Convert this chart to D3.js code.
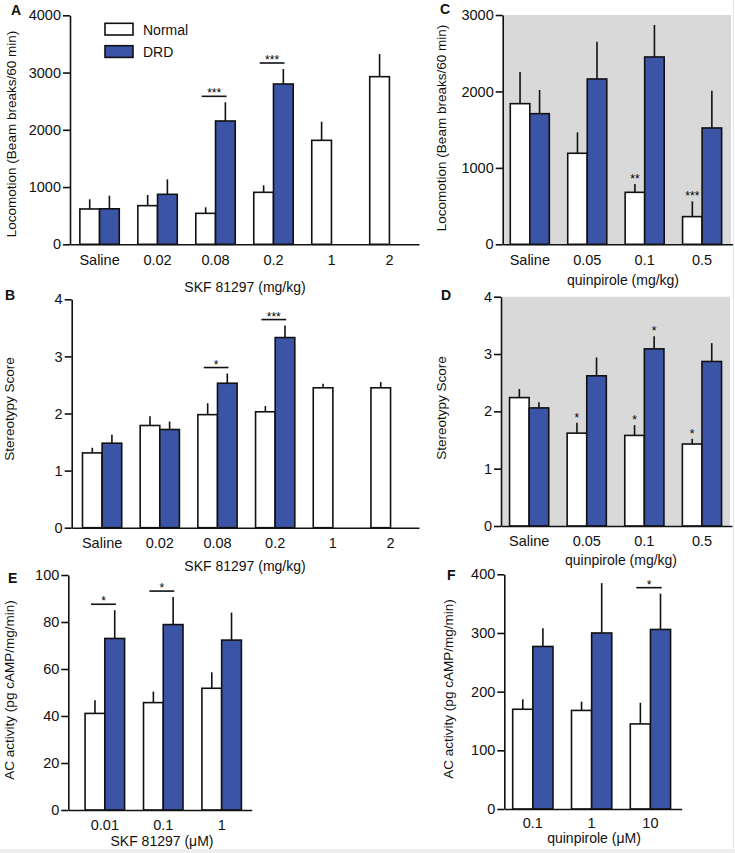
<!DOCTYPE html>
<html>
<head>
<meta charset="utf-8">
<script src="https://cdn.jsdelivr.net/npm/d3@7/dist/d3.min.js"></script>
<style>
  body { margin: 0; background: #fff; }
  svg { font-family: "Liberation Sans", Arial, sans-serif; }
</style>
</head>
<body>
<script>
// groups of the bar charts
var skfDoses = ["Saline", "0.02", "0.08", "0.2", "1", "2"];
var quinDoses = ["Saline", "0.05", "0.1", "0.5"];
var skfConc = ["0.01", "0.1", "1"];
var quinConc = ["0.1", "1", "10"];

// A: locomotion after SKF 81297 (mean and sem)
var locoSkfNormal = [617, 675, 541, 908, 1816, 2928];
var locoSkfNormalSem = [169, 186, 105, 122, 325, 396];
var locoSkfDrd = [620, 873, 2154, 2800, null, null];
var locoSkfDrdSem = [229, 262, 326, 262, null, null];

// B: stereotypy after SKF 81297
var stereoSkfNormal = [1.31, 1.79, 1.98, 2.03, 2.45, 2.45];
var stereoSkfNormalSem = [0.09, 0.16, 0.20, 0.10, 0.07, 0.10];
var stereoSkfDrd = [1.48, 1.72, 2.53, 3.33, null, null];
var stereoSkfDrdSem = [0.15, 0.14, 0.17, 0.21, null, null];

// C: locomotion after quinpirole
var locoQuinNormal = [1840, 1191, 680, 362];
var locoQuinNormalSem = [414, 274, 109, 200];
var locoQuinDrd = [1709, 2163, 2451, 1522];
var locoQuinDrdSem = [310, 488, 419, 488];

// D: stereotypy after quinpirole
var stereoQuinNormal = [2.24, 1.62, 1.58, 1.43];
var stereoQuinNormalSem = [0.15, 0.18, 0.18, 0.09];
var stereoQuinDrd = [2.06, 2.62, 3.09, 2.87];
var stereoQuinDrdSem = [0.10, 0.32, 0.22, 0.32];

// E: AC activity with SKF 81297
var acSkfNormal = [41.1, 45.7, 51.8];
var acSkfNormalSem = [5.6, 4.7, 6.8];
var acSkfDrd = [73.0, 78.9, 72.3];
var acSkfDrdSem = [12.0, 11.7, 11.7];

// F: AC activity with quinpirole
var acQuinNormal = [170, 168, 145];
var acQuinNormalSem = [17, 15, 36];
var acQuinDrd = [277, 300, 306];
var acQuinDrdSem = [31, 85, 61];

// tick values
var ticksLocoSkf = [0, 1000, 2000, 3000, 4000];
var ticksLocoQuin = [0, 1000, 2000, 3000];
var ticksStereo = [0, 1, 2, 3, 4];
var ticksAcSkf = [0, 20, 40, 60, 80, 100];
var ticksAcQuin = [0, 100, 200, 300, 400];

// significance marks: bracket over a group, or stars over one bar
var sigLocoSkf = [{i: 2, t: "***"}, {i: 3, t: "***"}];
var sigStereoSkf = [{i: 2, t: "*"}, {i: 3, t: "***"}];
var starsLocoQuin = [{i: 2, s: "Normal", t: "**"}, {i: 3, s: "Normal", t: "***"}];
var starsStereoQuin = [{i: 1, s: "Normal", t: "*"}, {i: 2, s: "Normal", t: "*"},
                       {i: 3, s: "Normal", t: "*"}, {i: 2, s: "DRD", t: "*"}];
var sigAcSkf = [{i: 0, t: "*"}, {i: 1, t: "*"}];
var sigAcQuin = [{i: 2, t: "*"}];

var blue = "#3b54a5";
var grey = "#d9d9d9";

var svg = d3.select("body").append("svg")
            .attr("width", 735)
            .attr("height", 853);

function drawPanel(p) {
  var g = svg.append("g");

  var x = d3.scaleBand()
            .domain(p.groups)
            .range([p.x0, p.x1])
            .paddingInner(p.pin)
            .paddingOuter(p.pout)
            .align(p.align);
  var sub = d3.scaleBand()
              .domain(["Normal", "DRD"])
              .range([0, x.bandwidth()]);
  var y = d3.scaleLinear()
            .domain([0, p.max])
            .range([p.y0, p.yTop]);

  // grey background for the quinpirole panels
  if (p.shade) {
    g.append("rect")
     .attr("x", p.x0)
     .attr("y", p.yTop)
     .attr("width", p.x1 - p.x0 - 2)
     .attr("height", p.y0 - p.yTop)
     .attr("fill", grey);
  }

  var rows = [];
  p.groups.forEach(function(d, i) {
    rows.push({g: d, s: "Normal", v: p.normal[i], e: p.normalSem[i]});
    if (p.drd[i] != null) {
      rows.push({g: d, s: "DRD", v: p.drd[i], e: p.drdSem[i]});
    }
  });

  // error bars, only the upper half
  g.selectAll(".err")
   .data(rows)
   .enter().append("line")
   .attr("x1", function(d) { return x(d.g) + sub(d.s) + sub.bandwidth() / 2; })
   .attr("x2", function(d) { return x(d.g) + sub(d.s) + sub.bandwidth() / 2; })
   .attr("y1", function(d) { return y(d.v); })
   .attr("y2", function(d) { return y(d.v + d.e); })
   .attr("stroke", "#111")
   .attr("stroke-width", 1.6);

  g.selectAll(".bar")
   .data(rows)
   .enter().append("rect")
   .attr("x", function(d) { return x(d.g) + sub(d.s); })
   .attr("y", function(d) { return y(d.v); })
   .attr("width", sub.bandwidth())
   .attr("height", function(d) { return p.y0 - y(d.v); })
   .attr("fill", function(d) { return d.s == "DRD" ? blue : "#fff"; })
   .attr("stroke", "#111")
   .attr("stroke-width", 1.6);

  // brackets with stars between Normal and DRD
  (p.sig || []).forEach(function(d) {
    var top = y(p.drd[d.i] + p.drdSem[d.i]) - 6;
    var bx = x(p.groups[d.i]);
    var bw = x.bandwidth();
    g.append("line")
     .attr("x1", bx + bw * 0.15)
     .attr("x2", bx + bw * 0.78)
     .attr("y1", top)
     .attr("y2", top)
     .attr("stroke", "#111")
     .attr("stroke-width", 1.6);
    g.append("text")
     .attr("x", bx + bw * 0.465)
     .attr("y", top + 1)
     .attr("text-anchor", "middle")
     .attr("font-size", 12)
     .text(d.t);
  });

  // stars straight over a bar
  (p.stars || []).forEach(function(d) {
    var v = d.s == "DRD" ? p.drd[d.i] + p.drdSem[d.i] : p.normal[d.i] + p.normalSem[d.i];
    g.append("text")
     .attr("x", x(p.groups[d.i]) + sub(d.s) + sub.bandwidth() / 2)
     .attr("y", y(v) - 1)
     .attr("text-anchor", "middle")
     .attr("font-size", 12)
     .text(d.t);
  });

  // axes
  var yAxis = g.append("g")
               .attr("transform", "translate(" + p.x0 + ",0)")
               .call(d3.axisLeft(y).tickValues(p.ticks).tickFormat(function(d) { return d; })
                       .tickSize(7).tickPadding(2).tickSizeOuter(0));
  var xAxis = g.append("g")
               .attr("transform", "translate(0," + p.y0 + ")")
               .call(d3.axisBottom(x).tickSize(0).tickPadding(p.xpad).tickSizeOuter(0));

  [yAxis, xAxis].forEach(function(a) {
    a.attr("font-family", null).attr("font-size", 14.5);
    a.selectAll("path, line").attr("stroke", "#111").attr("stroke-width", 1.6);
    a.selectAll("text").attr("fill", "#111");
  });

  // axis titles and panel letter
  g.append("text")
   .attr("transform", "translate(" + p.ytx + "," + p.yty + ") rotate(-90)")
   .attr("text-anchor", "middle")
   .attr("dominant-baseline", "central")
   .attr("font-size", 13.5)
   .attr("fill", "#111")
   .text(p.ytitle);

  g.append("text")
   .attr("x", p.xtx)
   .attr("y", p.xty)
   .attr("text-anchor", "middle")
   .attr("font-size", 14)
   .attr("fill", "#111")
   .text(p.xtitle);

  g.append("text")
   .attr("x", p.lx)
   .attr("y", p.ly)
   .attr("font-size", 14)
   .attr("font-weight", "bold")
   .attr("fill", "#111")
   .text(p.letter);
}

drawPanel({letter: "A", lx: 11, ly: 15,
  groups: skfDoses, normal: locoSkfNormal, normalSem: locoSkfNormalSem,
  drd: locoSkfDrd, drdSem: locoSkfDrdSem, sig: sigLocoSkf,
  max: 4000, ticks: ticksLocoSkf,
  x0: 70, x1: 419, yTop: 15.3, y0: 244.3, pin: 0.32, pout: 0.17, align: 0.5, xpad: 10.5,
  ytitle: "Locomotion (Beam breaks/60 min)", ytx: 11, yty: 134,
  xtitle: "SKF 81297  (mg/kg)", xtx: 245, xty: 292});

drawPanel({letter: "B", lx: 5, ly: 300,
  groups: skfDoses, normal: stereoSkfNormal, normalSem: stereoSkfNormalSem,
  drd: stereoSkfDrd, drdSem: stereoSkfDrdSem, sig: sigStereoSkf,
  max: 4, ticks: ticksStereo,
  x0: 71.7, x1: 419, yTop: 299.3, y0: 527.7, pin: 0.32, pout: 0.17, align: 0.55, xpad: 10,
  ytitle: "Stereotypy Score", ytx: 9, yty: 409,
  xtitle: "SKF 81297  (mg/kg)", xtx: 245, xty: 571});

drawPanel({letter: "C", lx: 440, ly: 14, shade: true,
  groups: quinDoses, normal: locoQuinNormal, normalSem: locoQuinNormalSem,
  drd: locoQuinDrd, drdSem: locoQuinDrdSem, stars: starsLocoQuin,
  max: 3000, ticks: ticksLocoQuin,
  x0: 502.7, x1: 733, yTop: 15, y0: 244.3, pin: 0.32, pout: 0.165, align: 0.4, xpad: 10.5,
  ytitle: "Locomotion (Beam breaks/60 min)", ytx: 441.5, yty: 128,
  xtitle: "quinpirole (mg/kg)", xtx: 623, xty: 285});

drawPanel({letter: "D", lx: 441, ly: 300, shade: true,
  groups: quinDoses, normal: stereoQuinNormal, normalSem: stereoQuinNormalSem,
  drd: stereoQuinDrd, drdSem: stereoQuinDrdSem, stars: starsStereoQuin,
  max: 4, ticks: ticksStereo,
  x0: 501, x1: 732, yTop: 296.7, y0: 526, pin: 0.32, pout: 0.165, align: 0.45, xpad: 10,
  ytitle: "Stereotypy Score", ytx: 441, yty: 408,
  xtitle: "quinpirole (mg/kg)", xtx: 621, xty: 565});

drawPanel({letter: "E", lx: 8, ly: 583,
  groups: skfConc, normal: acSkfNormal, normalSem: acSkfNormalSem,
  drd: acSkfDrd, drdSem: acSkfDrdSem, sig: sigAcSkf,
  max: 100, ticks: ticksAcSkf,
  x0: 68.3, x1: 251.7, yTop: 575, y0: 810, pin: 0.324, pout: 0.232, align: 0.62, xpad: 10,
  ytitle: "AC activity (pg cAMP/mg/min)", ytx: 9, yty: 690,
  xtitle: "SKF 81297  (\u03bcM)", xtx: 162, xty: 846});

drawPanel({letter: "F", lx: 447, ly: 580,
  groups: quinConc, normal: acQuinNormal, normalSem: acQuinNormalSem,
  drd: acQuinDrd, drdSem: acQuinDrdSem, sig: sigAcQuin,
  max: 400, ticks: ticksAcQuin,
  x0: 504.3, x1: 681.7, yTop: 574.3, y0: 809, pin: 0.315, pout: 0.166, align: 0.43, xpad: 8.5,
  ytitle: "AC activity (pg cAMP/mg/min)", ytx: 448, yty: 689,
  xtitle: "quinpirole (\u03bcM)", xtx: 594, xty: 843});

// legend in panel A
var legend = svg.append("g");
var legendKeys = ["Normal", "DRD"];
legend.selectAll("rect")
      .data(legendKeys)
      .enter().append("rect")
      .attr("x", 105)
      .attr("y", function(d, i) { return 23.3 + i * 22.4; })
      .attr("width", 28)
      .attr("height", 11.7)
      .attr("fill", function(d) { return d == "DRD" ? blue : "#fff"; })
      .attr("stroke", "#111")
      .attr("stroke-width", 1.6);
legend.selectAll("text")
      .data(legendKeys)
      .enter().append("text")
      .attr("x", 143)
      .attr("y", function(d, i) { return 34.5 + i * 22.4; })
      .attr("font-size", 14)
      .attr("fill", "#111")
      .text(function(d) { return d; });

// faint frame on the right and bottom edge of the figure
svg.append("line").attr("x1", 733.5).attr("x2", 733.5).attr("y1", 0).attr("y2", 853)
   .attr("stroke", "#e6e6e6").attr("stroke-width", 1);
svg.append("rect").attr("x", 0).attr("y", 849).attr("width", 735).attr("height", 4)
   .attr("fill", "#eeeeee");
</script>
</body>
</html>
